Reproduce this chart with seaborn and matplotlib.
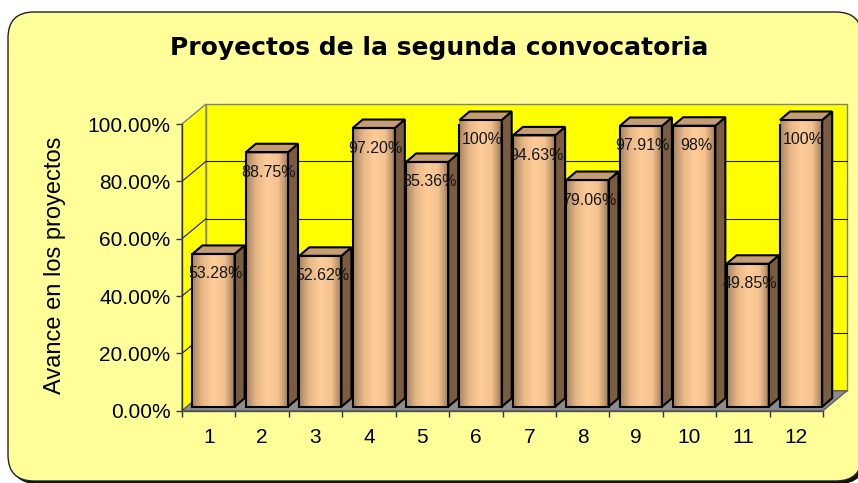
import matplotlib
matplotlib.use("Agg")
import numpy as np
import pandas as pd
import matplotlib.pyplot as plt
import seaborn as sns
from matplotlib.patches import FancyBboxPatch, Polygon, Rectangle
from matplotlib.colors import LinearSegmentedColormap
from matplotlib.ticker import FixedLocator

# ---- data -------------------------------------------------------------
proyectos = [str(i) for i in range(1, 13)]
avance = [53.28, 88.75, 52.62, 97.20, 85.36, 100, 94.63, 79.06, 97.91, 98, 49.85, 100]
yticks = [0, 20, 40, 60, 80, 100]
title = "Proyectos de la segunda convocatoria"
ylabel = "Avance en los proyectos"


def pct_label(v):
    return f"{v:.0f}%" if float(v).is_integer() else f"{v:.2f}%"


# ---- style ------------------------------------------------------------
sns.set_theme(style="white")
plt.rcParams["font.family"] = ["Liberation Sans", "DejaVu Sans"]

FW, FH = 858, 483
fig = plt.figure(figsize=(FW / 100, FH / 100), dpi=100)
fig.patch.set_facecolor("white")

# rounded chart area with a small shadow (inch coordinates)
shadow = FancyBboxPatch((0.11, -0.01), 8.54, 4.69,
                        boxstyle="round,pad=0,rounding_size=0.26",
                        transform=fig.dpi_scale_trans, facecolor="#111111",
                        edgecolor="none", zorder=-3)
panel = FancyBboxPatch((0.08, 0.02), 8.54, 4.69,
                       boxstyle="round,pad=0,rounding_size=0.26",
                       transform=fig.dpi_scale_trans, facecolor="#FFFF99",
                       edgecolor="#222222", linewidth=1.0, zorder=-2)
fig.patches.extend([shadow, panel])

# plot area = front plane of the 3-D box
left_px, right_px, base_px, top_px = 182, 823, 410.7, 124
ax = fig.add_axes([left_px / FW, (FH - base_px) / FH,
                   (right_px - left_px) / FW, (base_px - top_px) / FH])
ax.patch.set_visible(False)

n = len(proyectos)
px_x = (right_px - left_px) / n          # pixels per category
px_y = (base_px - top_px) / 100.0        # pixels per percent


def dx(p):
    return p / px_x


def dy(p):
    return p / px_y


# depth of walls and bars
wall_dx, wall_dy = dx(24), dy(20)
bar_dx0, bar_dy0 = dx(4.8), dy(4)
bar_dx, bar_dy = dx(10), dy(8.5)

x0, x1 = -0.5, n - 0.5

# back wall
ax.add_patch(Rectangle((x0 + wall_dx, wall_dy), n, 100, facecolor="#FFFF00",
                       edgecolor="#808080", linewidth=1.0, zorder=0.5, clip_on=False))
# left wall
ax.add_patch(Polygon([(x0, 0), (x0 + wall_dx, wall_dy), (x0 + wall_dx, 100 + wall_dy), (x0, 100)],
                     closed=True, facecolor="#FFFF00", edgecolor="#808080",
                     linewidth=1.0, zorder=0.6, clip_on=False))
# gridlines on both walls
for v in yticks[1:-1]:
    ax.plot([x0 + wall_dx, x1 + wall_dx], [v + wall_dy, v + wall_dy],
            color="#1a1a1a", linewidth=0.8, zorder=0.7, clip_on=False)
    ax.plot([x0, x0 + wall_dx], [v, v + wall_dy],
            color="#1a1a1a", linewidth=0.8, zorder=0.7, clip_on=False)
# floor
ax.add_patch(Polygon([(x0, 0), (x1, 0), (x1 + wall_dx, wall_dy), (x0 + wall_dx, wall_dy)],
                     closed=True, facecolor="#8C8C8C", edgecolor="#5E5E5E",
                     linewidth=1.0, zorder=0.8, clip_on=False))

# ---- bars -------------------------------------------------------------
df = pd.DataFrame({"Proyecto": proyectos, "Avance": avance})
sns.barplot(data=df, x="Proyecto", y="Avance", ax=ax, width=0.79,
            color="#FFCC99", saturation=1, edgecolor="black", linewidth=1.5,
            zorder=3)
bars = list(ax.containers[0])

face_cmap = LinearSegmentedColormap.from_list(
    "bar_face", ["#A88460", "#E8B888", "#FFCC99", "#F2C290", "#9E7A56"])
grad = np.linspace(0, 1, 256)[None, :]

for patch, v in zip(bars, avance):
    patch.set_x(patch.get_x() + bar_dx0)
    patch.set_y(bar_dy0)
    bx0 = patch.get_x()
    bx1 = bx0 + patch.get_width()
    btop = patch.get_y() + patch.get_height()
    img = ax.imshow(grad, extent=[bx0, bx1, bar_dy0, btop], aspect="auto",
                    cmap=face_cmap, zorder=3, interpolation="bilinear")
    img.set_clip_path(patch)
    patch.set_facecolor("none")
    patch.set_zorder(3.2)
    # right side face
    ax.add_patch(Polygon([(bx1, bar_dy0), (bx1 + bar_dx, bar_dy0 + bar_dy),
                          (bx1 + bar_dx, btop + bar_dy), (bx1, btop)],
                         closed=True, facecolor="#7A5C40", edgecolor="black",
                         linewidth=1.5, joinstyle="miter", zorder=3.1, clip_on=False))
    # top face
    ax.add_patch(Polygon([(bx0, btop), (bx1, btop), (bx1 + bar_dx, btop + bar_dy),
                          (bx0 + bar_dx, btop + bar_dy)],
                         closed=True, facecolor="#C49C76", edgecolor="black",
                         linewidth=1.5, joinstyle="miter", zorder=3.1, clip_on=False))
    ax.text((bx0 + bx1) / 2 + dx(2), btop - dy(20), pct_label(v),
            ha="center", va="center", fontsize=11.5, color="#151515", zorder=5)

# ---- axes -------------------------------------------------------------
ax.set_xlim(x0, x1)
ax.set_ylim(0, 100)
ax.set_xlabel("")
ax.set_ylabel("")
for s in ("top", "right"):
    ax.spines[s].set_visible(False)
ax.spines["left"].set_color("#333333")
ax.spines["left"].set_linewidth(1.0)
ax.spines["bottom"].set_color("#555555")
ax.spines["bottom"].set_linewidth(1.0)
ax.spines["left"].set_zorder(1)
ax.spines["bottom"].set_zorder(1)

ax.set_yticks(yticks)
ax.set_yticklabels([f"{t:.2f}%" for t in yticks])
ax.set_xticks(range(n))
ax.set_xticklabels(proyectos)
ax.xaxis.set_minor_locator(FixedLocator(np.arange(x0, x1 + 0.01, 1.0)))
ax.tick_params(axis="y", which="major", left=True, length=4, width=1,
               color="#333333", labelsize=15, pad=4.3, labelcolor="black")
ax.tick_params(axis="x", which="major", bottom=True, length=0,
               labelsize=15, pad=12.3, labelcolor="black")
ax.tick_params(axis="x", which="minor", bottom=True, length=4.3, width=1,
               color="#333333")
ax.grid(False)

# ---- texts ------------------------------------------------------------
fig.text(439.5 / FW, (FH - 55) / FH, title, ha="center", va="baseline",
         fontsize=18, fontweight="bold", family=["DejaVu Sans"], color="black")
fig.text(55 / FW, (FH - 265) / FH, ylabel, rotation=90, ha="center",
         va="center", fontsize=17, color="black")

fig.savefig("out.png", dpi=100, facecolor="white")
